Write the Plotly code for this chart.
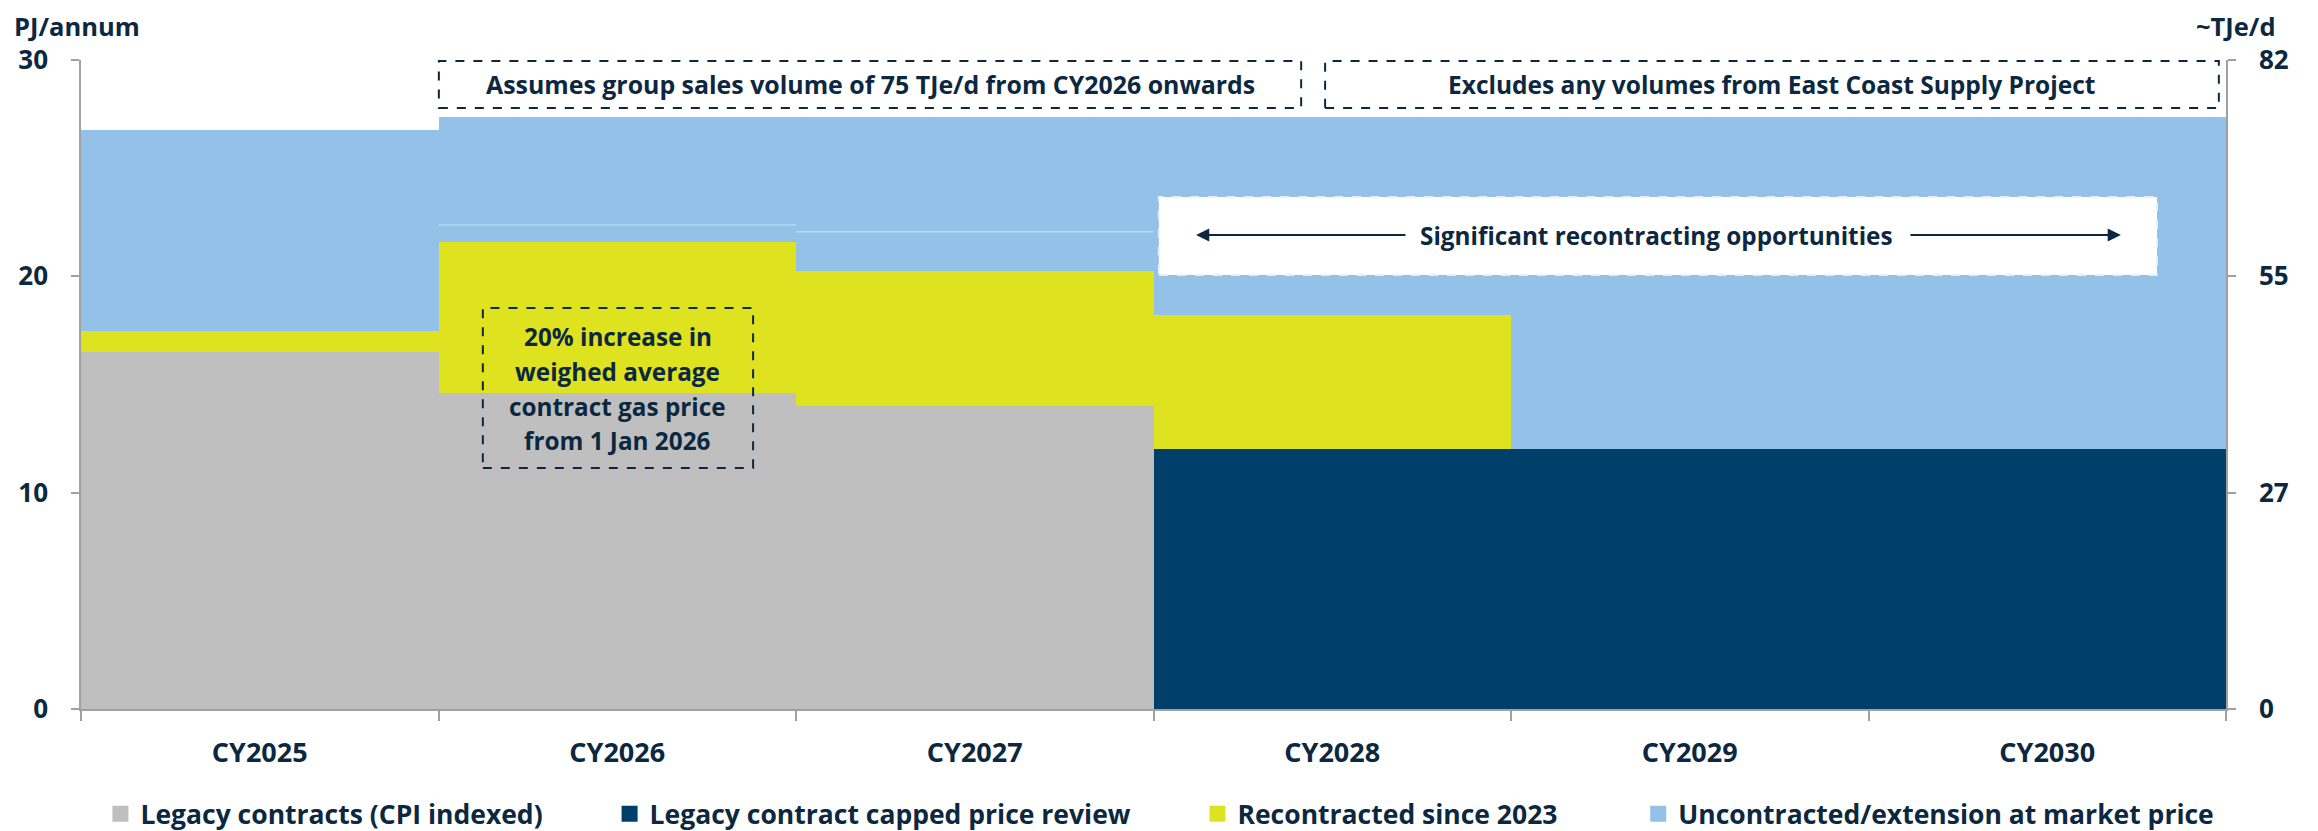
import plotly.graph_objects as go

# ---------------- data ----------------
years = ["CY2025", "CY2026", "CY2027", "CY2028", "CY2029", "CY2030"]
legacy_cpi = [16.5, 14.6, 14.0, 0, 0, 0]
legacy_capped = [0, 0, 0, 12.0, 12.0, 12.0]
recontracted = [0.97, 7.0, 6.25, 6.2, 0, 0]
uncontracted = [9.3, 5.78, 7.13, 9.18, 15.38, 15.38]
# faint split level inside the uncontracted block (PJ/annum), None = no split
split_level = [None, 22.37, 22.06, None, None, None]

left_ticks = [0, 10, 20, 30]
right_ticklabels = ["0", "27", "55", "82"]

series_names = [
    "Legacy contracts (CPI indexed)",
    "Legacy contract capped price review",
    "Recontracted since 2023",
    "Uncontracted/extension at market price",
]
colors = ["#BFBFBF", "#003F69", "#DFE21E", "#93C1E8"]

TXT = "#0C2840"
FONT = "Open Sans"
AX = "#A0A0A0"
gap_counts = [9, 9, 11, 0]  # spacing (nbsp) after each legend entry

xs = list(range(len(years)))

fig = go.Figure()
for vals, name, col in zip([legacy_cpi, legacy_capped, recontracted, uncontracted], series_names, colors):
    fig.add_trace(go.Bar(
        x=xs, y=vals, width=1.0, name=name, marker=dict(color=col, line=dict(width=0)),
        showlegend=False, hoverinfo="skip",
    ))

# faint split line
lx, ly = [], []
for i, lv in enumerate(split_level):
    if lv is not None:
        lx += [i - 0.5, i + 0.5, None]
        ly += [lv, lv, None]
fig.add_trace(go.Scatter(x=lx, y=ly, mode="lines", line=dict(color="#B9D7F2", width=1.5),
                         showlegend=False, hoverinfo="skip"))

# legend entries
for name, col, g in zip(series_names, colors, gap_counts):
    fig.add_trace(go.Scatter(x=[None], y=[None], mode="markers", name=name + "\u00a0" * g,
                             marker=dict(symbol="square", size=16, color=col)))

# invisible trace for right axis
fig.add_trace(go.Scatter(x=[None], y=[None], yaxis="y2", showlegend=False, hoverinfo="skip"))

# page body has an 8px margin; figure is sized/placed so the plot lands where the reference is
fig.update_layout(
    width=2310, height=823,
    margin=dict(l=73, r=92, t=52, b=122, autoexpand=False),
    paper_bgcolor="white", plot_bgcolor="white",
    barmode="stack", bargap=0,
    font=dict(family=FONT, color=TXT, size=24),
    xaxis=dict(
        range=[-0.5, 5.5], tickmode="array", tickvals=xs, ticktext=years,
        ticks="", showgrid=False, zeroline=False,
        showline=True, linecolor=AX, linewidth=2,
        tickfont=dict(family=FONT, size=27, color=TXT, weight="bold"),
        ticklabelstandoff=19,
        minor=dict(tickmode="linear", tick0=0.5, dtick=1, ticks="outside", ticklen=10,
                   tickcolor=AX, tickwidth=1.5, showgrid=False),
    ),
    yaxis=dict(
        range=[0, 30], tickmode="array", tickvals=left_ticks,
        ticks="outside", ticklen=8, tickcolor=AX, tickwidth=1.5,
        showgrid=False, zeroline=False, showline=True, linecolor=AX, linewidth=1.5,
        tickfont=dict(family=FONT, size=26, color=TXT, weight="bold"),
        ticklabelstandoff=18,
    ),
    yaxis2=dict(
        overlaying="y", side="right", range=[0, 30], tickmode="array",
        tickvals=left_ticks, ticktext=right_ticklabels,
        ticks="outside", ticklen=8, tickcolor=AX, tickwidth=1.5,
        showgrid=False, zeroline=False, showline=True, linecolor=AX, linewidth=1.5,
        tickfont=dict(family=FONT, size=26, color=TXT, weight="bold"),
        ticklabelstandoff=18,
    ),
    legend=dict(
        orientation="h", x=0.503, xanchor="center", y=-0.162, yanchor="middle",
        font=dict(family=FONT, size=26.5, color=TXT, weight="bold"),
        itemwidth=30, tracegroupgap=0, traceorder="normal",
    ),
    showlegend=True,
)

def bold(t):
    return "<b>" + t + "</b>"

# axis unit labels
fig.add_annotation(xref="paper", yref="paper", x=0, y=1, xanchor="left", yanchor="top",
                   xshift=-68, yshift=52, showarrow=False, text=bold("PJ/annum"),
                   font=dict(size=25.5, color=TXT, family=FONT), borderpad=0)
fig.add_annotation(xref="paper", yref="paper", x=1, y=1, xanchor="right", yanchor="top",
                   xshift=51, yshift=52, showarrow=False, text=bold("~TJe/d"),
                   font=dict(size=25.5, color=TXT, family=FONT), borderpad=0)

# dashed boxes
fig.add_shape(type="rect", xref="x", yref="y", x0=0.501, x1=2.913, y0=27.78, y1=29.95,
              line=dict(color=TXT, width=2, dash="dash"), fillcolor="rgba(0,0,0,0)")
fig.add_annotation(x=1.707, y=28.89, showarrow=False,
                   text=bold("Assumes group sales volume of 75 TJe/d from CY2026 onwards"),
                   font=dict(size=24.9, color=TXT, family=FONT))
fig.add_shape(type="rect", xref="x", yref="y", x0=2.98, x1=5.48, y0=27.78, y1=29.95,
              line=dict(color=TXT, width=2, dash="dash"), fillcolor="rgba(0,0,0,0)")
fig.add_annotation(x=4.23, y=28.89, showarrow=False,
                   text=bold("Excludes any volumes from East Coast Supply Project"),
                   font=dict(size=24.5, color=TXT, family=FONT))

# white recontracting box
fig.add_shape(type="rect", xref="x", yref="y", x0=2.515, x1=5.307, y0=20.06, y1=23.67,
              line=dict(color="#E6EFF8", width=2, dash="dash"), fillcolor="white")
fig.add_annotation(x=3.906, y=21.91, showarrow=False,
                   text=bold("Significant recontracting opportunities"),
                   font=dict(size=24.3, color=TXT, family=FONT))
fig.add_annotation(x=2.619, y=21.91, ax=3.209, ay=21.91, axref="x", ayref="y",
                   showarrow=True, arrowhead=2, arrowsize=1.2, arrowwidth=2.2, arrowcolor=TXT, text="")
fig.add_annotation(x=5.206, y=21.91, ax=4.613, ay=21.91, axref="x", ayref="y",
                   showarrow=True, arrowhead=2, arrowsize=1.2, arrowwidth=2.2, arrowcolor=TXT, text="")

# 20% increase box
fig.add_shape(type="rect", xref="x", yref="y", x0=0.624, x1=1.38, y0=11.14, y1=18.54,
              line=dict(color=TXT, width=2, dash="dash"), fillcolor="rgba(0,0,0,0)")
box_lines = ["20% increase in", "weighed average", "contract gas price", "from 1 Jan 2026"]
box_line_y = [17.24, 15.62, 14.0, 12.39]
for t, yy in zip(box_lines, box_line_y):
    fig.add_annotation(x=1.002, y=yy, showarrow=False, text=bold(t),
                       font=dict(size=24.3, color=TXT, family=FONT))

fig.write_html("out.html")
